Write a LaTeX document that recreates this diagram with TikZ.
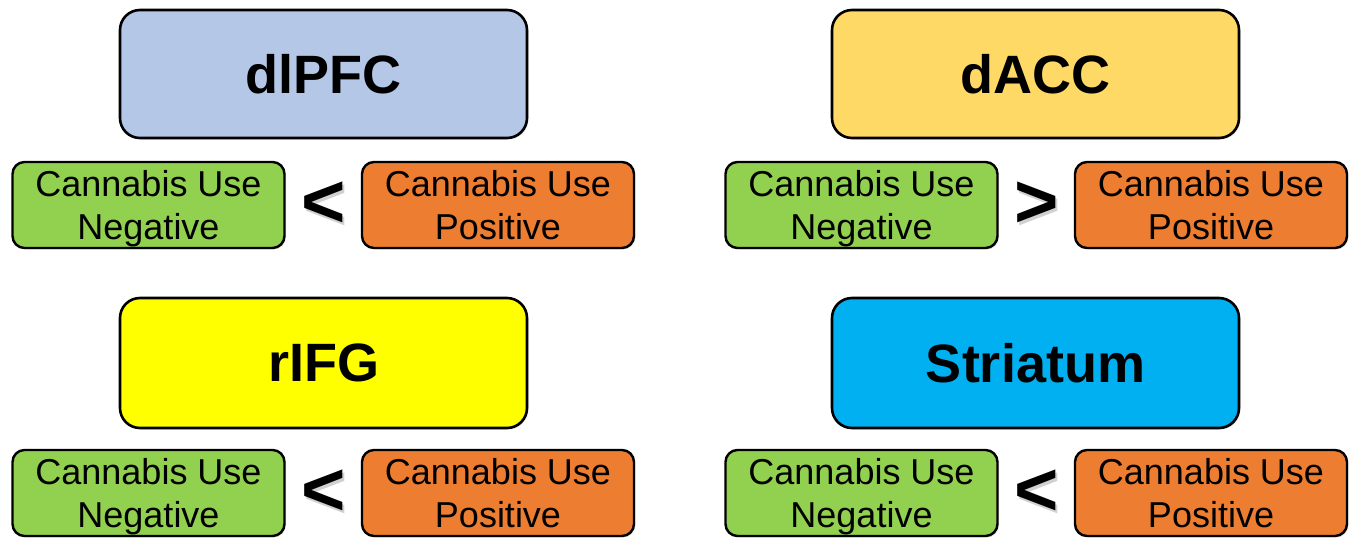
\documentclass[tikz,border=0pt]{standalone}
\usepackage{fontspec}
\setmainfont{Liberation Sans}
\usetikzlibrary{shadows,calc}
\definecolor{cblue}{HTML}{B4C7E7}
\definecolor{cgold}{HTML}{FFD966}
\definecolor{cyellow}{HTML}{FFFF00}
\definecolor{ccyan}{HTML}{00B0F0}
\definecolor{cgreen}{HTML}{92D050}
\definecolor{corange}{HTML}{ED7D31}
\tikzset{
  region/.style={draw=black, line width=2.6pt, rounded corners=20pt,
    minimum width=407pt, minimum height=128pt, inner sep=0pt,
    font=\fontsize{54}{64}\selectfont\bfseries,
    drop shadow={opacity=0.18, shadow xshift=1.5pt, shadow yshift=-1.5pt}},
  group/.style={draw=black, line width=2.4pt, rounded corners=12pt,
    minimum width=272pt, minimum height=86pt, inner sep=0pt, align=center,
    text depth=0pt, font=\fontsize{36}{43}\selectfont,
    drop shadow={opacity=0.18, shadow xshift=1.5pt, shadow yshift=-1.5pt}},
  relsym/.style={font=\fontsize{76}{76}\selectfont\bfseries, inner sep=0pt},
  relshadow/.style={relsym, text=black, opacity=0.18}
}
\begin{document}
\begin{tikzpicture}[x=1pt,y=-1pt]
\useasboundingbox[fill=white] (0,0) rectangle (1357,538);
% region boxes
\node[region, fill=cblue] (dlpfc) at (323.5,74) {dlPFC};
\node[region, fill=cgold] (dacc) at (1035.5,74) {dACC};
\node[region, fill=cyellow, minimum height=130pt] (rifg) at (323.5,363) {rIFG};
\node[region, fill=ccyan, minimum height=130pt] (striatum) at (1035.5,363) {Striatum};
% group boxes, row 1
\node[group, fill=cgreen] (neg1) at (148.5,205) {Cannabis Use\\Negative};
\node[group, fill=corange] (pos1) at (498,205) {Cannabis Use\\Positive};
\node[group, fill=cgreen] (neg2) at (861.5,205) {Cannabis Use\\Negative};
\node[group, fill=corange] (pos2) at (1211,205) {Cannabis Use\\Positive};
% group boxes, row 2
\node[group, fill=cgreen] (neg3) at (148.5,493) {Cannabis Use\\Negative};
\node[group, fill=corange] (pos3) at (498,493) {Cannabis Use\\Positive};
\node[group, fill=cgreen] (neg4) at (861.5,493) {Cannabis Use\\Negative};
\node[group, fill=corange] (pos4) at (1211,493) {Cannabis Use\\Positive};
% relation symbols with soft shadow
\coordinate (m1) at ($(neg1.east)!0.5!(pos1.west)$);
\coordinate (m2) at ($(neg2.east)!0.5!(pos2.west)$);
\coordinate (m3) at ($(neg3.east)!0.5!(pos3.west)$);
\coordinate (m4) at ($(neg4.east)!0.5!(pos4.west)$);
\node[relshadow] at ([xshift=2.5pt,yshift=-2.5pt]m1) {<};
\node[relsym] (rel1) at (m1) {<};
\node[relshadow] at ([xshift=2.5pt,yshift=-2.5pt]m2) {>};
\node[relsym] (rel2) at (m2) {>};
\node[relshadow] at ([xshift=2.5pt,yshift=-2.5pt]m3) {<};
\node[relsym] (rel3) at (m3) {<};
\node[relshadow] at ([xshift=2.5pt,yshift=-2.5pt]m4) {<};
\node[relsym] (rel4) at (m4) {<};
\end{tikzpicture}
\end{document}
